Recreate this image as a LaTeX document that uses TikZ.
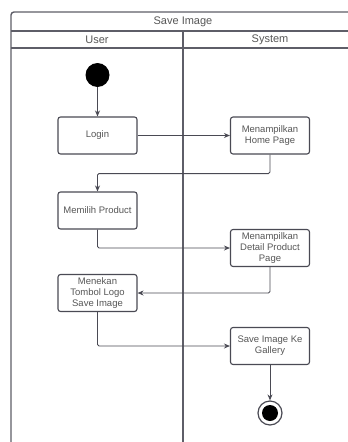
\documentclass[tikz,border=0pt]{standalone}
\usepackage{fontspec}
\setmainfont{Liberation Sans}
\usetikzlibrary{arrows.meta}
\definecolor{linec}{HTML}{4A4A54}
\definecolor{framec}{HTML}{5E5E68}
\definecolor{textc}{HTML}{575757}
\begin{document}
\begin{tikzpicture}[x=1pt,y=-1pt,
  lane/.style={draw=framec, line width=1.4pt},
  act/.style={draw=linec, line width=1.1pt, rounded corners=2.5pt,
    minimum width=79pt, minimum height=37pt, align=center,
    font=\fontsize{9.5}{11}\selectfont, text=textc, inner sep=1pt},
  flow/.style={draw=linec, line width=0.9pt, rounded corners=1.5pt,
    -{Stealth[length=6pt,width=5pt]}},
  hdr/.style={font=\fontsize{11}{13}\selectfont, text=textc}]
\useasboundingbox (0,0) rectangle (348,442);
\fill[white] (0,0) rectangle (348,442);

% swimlane frame
\draw[lane, rounded corners=3pt] (11,442) -- (11,12) -- (352,12);
\draw[lane] (11,31) -- (352,31);
\draw[lane] (11,48) -- (352,48);
\draw[lane] (183,31) -- (183,442);
\node[hdr] (title) at (183,21.5) {Save Image};
\node[hdr] (user) at (97,39.5) {User};
\node[hdr] (system) at (270,39.5) {System};

% start and end
\node[circle, fill=black, minimum size=24pt, inner sep=0pt] (start) at (97.5,75) {};
\node[circle, draw=linec, line width=1.2pt, fill=white, minimum size=24pt, inner sep=0pt] (end) at (270,413) {};
\node[circle, fill=black, minimum size=16pt, inner sep=0pt] (endin) at (270,413) {};

% activities
\node[act] (login) at (97.5,135.5) {Login};
\node[act] (home) at (270,135.5) {Menampilkan\\Home Page};
\node[act] (memilih) at (97.5,210.5) {Memilih Product};
\node[act] (detail) at (270,248) {Menampilkan\\Detail Product\\Page};
\node[act] (menekan) at (97.5,293) {Menekan\\Tombol Logo\\Save Image};
\node[act] (save) at (270,346) {Save Image Ke\\Gallery};

% control flow
\draw[flow] (start) -- (login);
\draw[flow] (login) -- (home);
\draw[flow] (home.south) -- ++(0,19) -| (memilih.north);
\draw[flow] (memilih.south) |- (detail.west);
\draw[flow] (detail.south) |- (menekan.east);
\draw[flow] (menekan.south) |- (save.west);
\draw[flow] (save) -- (end);
\end{tikzpicture}
\end{document}
